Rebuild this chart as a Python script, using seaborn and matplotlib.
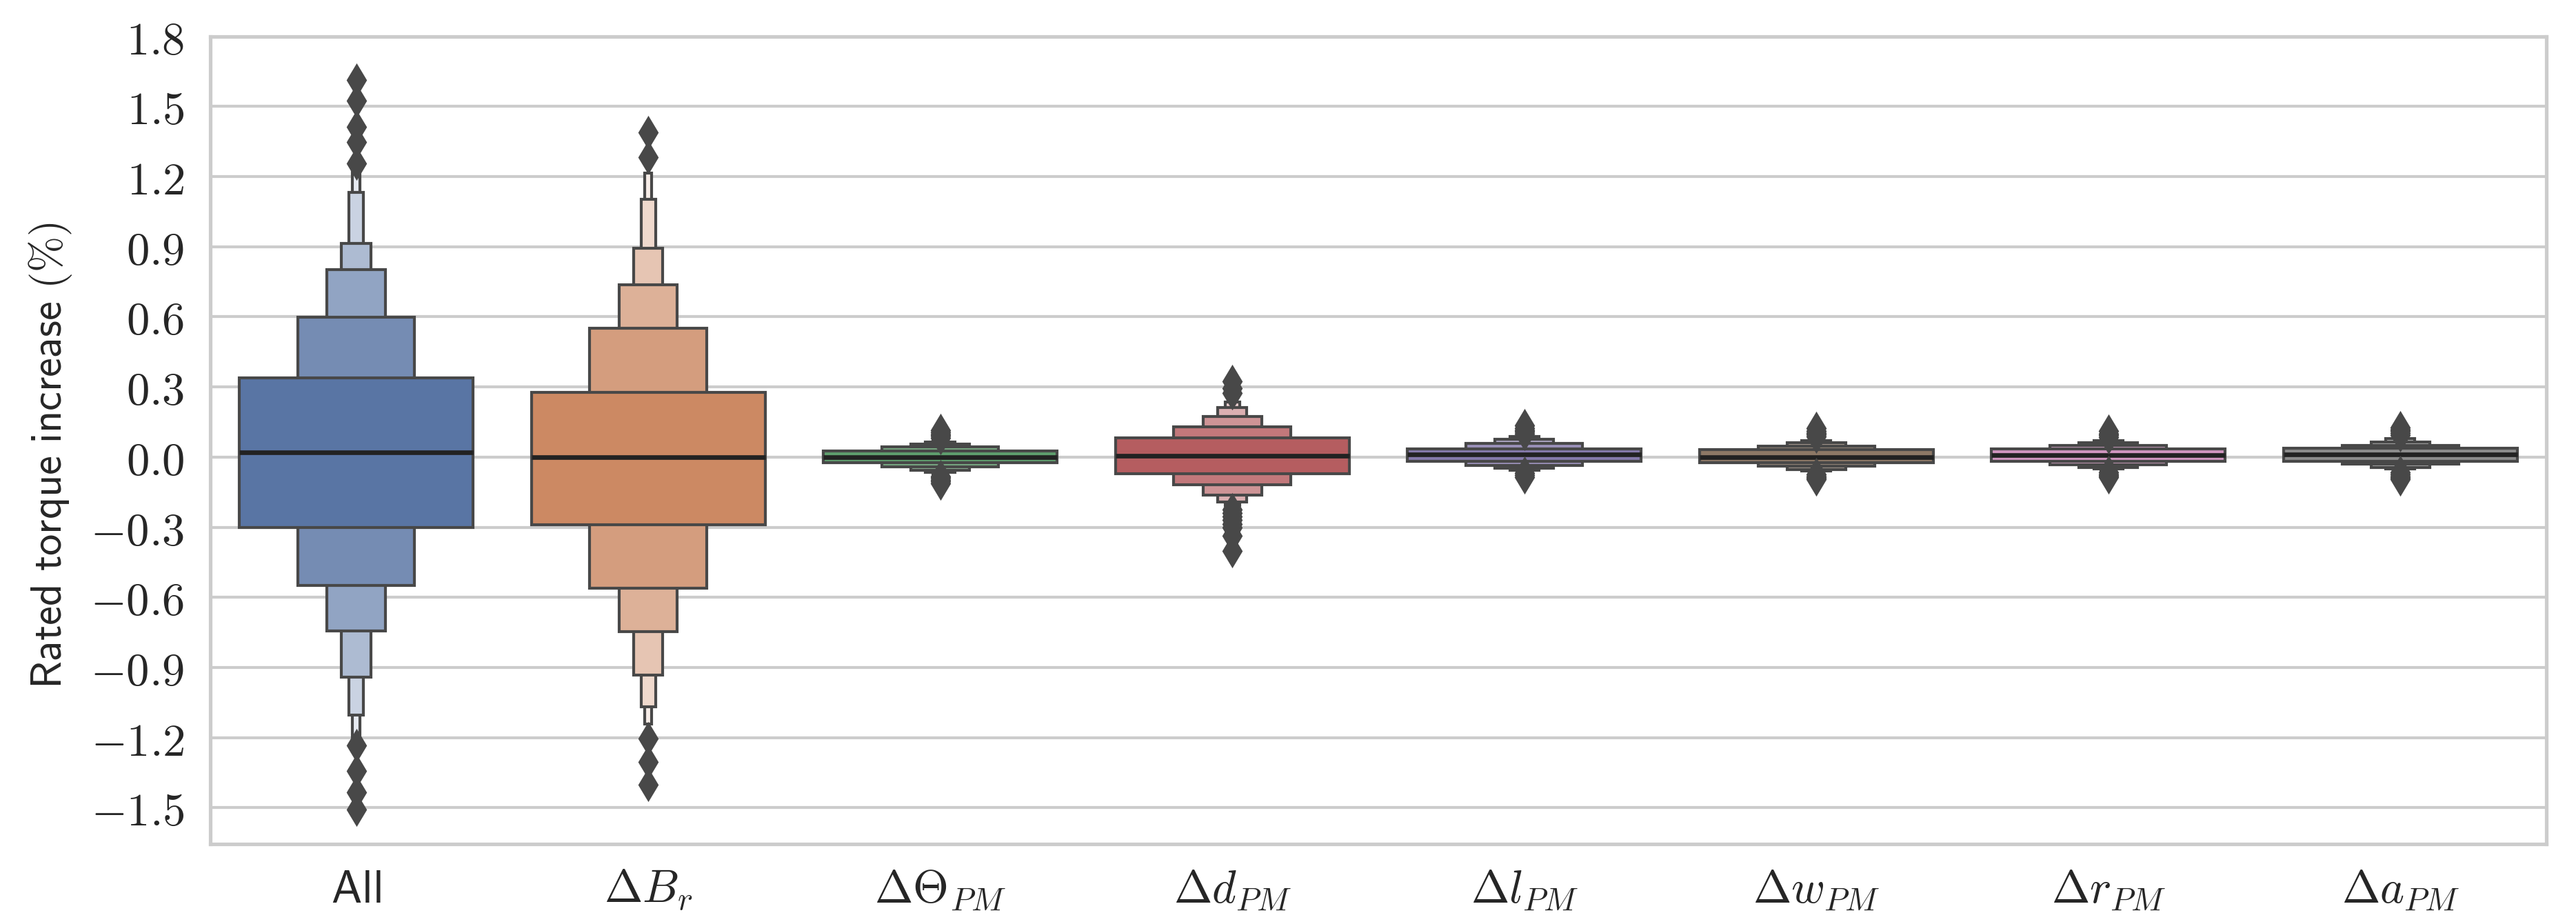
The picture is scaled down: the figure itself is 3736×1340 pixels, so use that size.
import matplotlib
matplotlib.use("Agg")
import numpy as np
import pandas as pd
import matplotlib.pyplot as plt
import seaborn as sns

# Letter-value plot of the rated torque increase per varied parameter.
# Values: one list per category,
# letter values go from the quartiles outward (25/75, 12.5/87.5, ...).
categories = ["All", r"$\Delta B_r$", r"$\Delta \Theta_{PM}$", r"$\Delta d_{PM}$",
              r"$\Delta l_{PM}$", r"$\Delta w_{PM}$", r"$\Delta r_{PM}$", r"$\Delta a_{PM}$"]

medians = [0.02, 0.0, 0.0, 0.006, 0.01, 0.0, 0.009, 0.01]

upper_values = [
    [0.338, 0.599, 0.801, 0.914, 1.132, 1.230],
    [0.277, 0.551, 0.737, 0.893, 1.102, 1.214],
    [0.026, 0.043, 0.055, 0.066, 0.072, 0.077],
    [0.083, 0.130, 0.174, 0.211, 0.235, 0.265],
    [0.036, 0.059, 0.075, 0.087, 0.093, 0.098],
    [0.031, 0.048, 0.063, 0.071, 0.078, 0.083],
    [0.034, 0.051, 0.063, 0.069, 0.075, 0.080],
    [0.037, 0.051, 0.065, 0.079, 0.085, 0.090],
]

lower_values = [
    [-0.301, -0.548, -0.744, -0.940, -1.105, -1.209],
    [-0.288, -0.562, -0.746, -0.931, -1.068, -1.142],
    [-0.025, -0.041, -0.055, -0.065, -0.071, -0.076],
    [-0.072, -0.118, -0.162, -0.191, -0.206, -0.215],
    [-0.018, -0.036, -0.047, -0.055, -0.060, -0.064],
    [-0.025, -0.039, -0.054, -0.060, -0.066, -0.070],
    [-0.018, -0.033, -0.046, -0.050, -0.055, -0.060],
    [-0.018, -0.030, -0.044, -0.050, -0.056, -0.060],
]

fliers = [
    [1.257, 1.349, 1.412, 1.526, 1.614, -1.233, -1.343, -1.435, -1.509],
    [1.282, 1.389, -1.203, -1.305, -1.400],
    [0.082, 0.090, 0.098, 0.106, 0.116, -0.082, -0.090, -0.098, -0.105, -0.113],
    [0.275, 0.295, 0.325, -0.225, -0.240, -0.255, -0.270, -0.285, -0.300, -0.338, -0.402],
    [0.100, 0.108, 0.116, 0.124, 0.136, -0.068, -0.076, -0.086],
    [0.088, 0.096, 0.104, 0.112, 0.123, -0.074, -0.082, -0.090, -0.096],
    [0.085, 0.093, 0.101, 0.113, -0.066, -0.074, -0.080, -0.086],
    [0.095, 0.103, 0.111, 0.118, 0.126, -0.066, -0.074, -0.082, -0.090, -0.096],
]

y_ticks = [-1.5, -1.2, -0.9, -0.6, -0.3, 0.0, 0.3, 0.6, 0.9, 1.2, 1.5, 1.8]

# style
sns.set_theme(style="whitegrid")
plt.rcParams["mathtext.fontset"] = "cm"
plt.rcParams["axes.edgecolor"] = ".8"
plt.rcParams["axes.linewidth"] = 1.25
plt.rcParams["grid.color"] = ".8"
plt.rcParams["grid.linewidth"] = 1.0

line_gray = "#484848"
palette = sns.color_palette("deep", len(categories))

fig, ax = plt.subplots(figsize=(3736 / 300, 1340 / 300), dpi=300)
fig.subplots_adjust(left=0.0816, right=0.9885, top=0.9607, bottom=0.0866)

# boxes: widest (quartile) box on top, each further level half as wide and lighter
for i, name in enumerate(categories):
    lo = lower_values[i]
    hi = upper_values[i]
    main = sns.desaturate(palette[i], 0.75)
    faded = tuple(c + 0.85 * (1 - c) for c in main)
    shades = sns.blend_palette([main, faded], len(lo))
    for lvl in range(len(lo) - 1, -1, -1):
        ax.bar(i, hi[lvl] - lo[lvl], bottom=lo[lvl], width=0.8 * 0.5 ** lvl,
               color=shades[lvl], edgecolor=line_gray, linewidth=1.0, zorder=2)
    ax.hlines(medians[i], i - 0.4, i + 0.4, color="#222222", linewidth=1.6, zorder=3)

# outliers
flier_df = pd.DataFrame({
    "pos": [i for i, f in enumerate(fliers) for _ in f],
    "value": [v for f in fliers for v in f],
})
sns.scatterplot(data=flier_df, x="pos", y="value", marker="d", s=70,
                color=line_gray, linewidth=0, zorder=4, ax=ax, legend=False)

ax.set_xlim(-0.5, len(categories) - 0.5)
ax.set_ylim(-1.655, 1.8)
ax.set_xticks(range(len(categories)))
ax.set_xticklabels([r"$\mathsf{All}$"] + categories[1:])
ax.set_yticks(y_ticks, labels=[f"${v:.1f}$" for v in y_ticks])
ax.grid(axis="x", visible=False)
ax.grid(axis="y", visible=True)
ax.set_axisbelow(True)
ax.tick_params(axis="both", length=0, labelsize=16, colors=".15")
ax.tick_params(axis="y", pad=9)
ax.tick_params(axis="x", pad=8)
ax.set_xlabel("")
ax.set_ylabel(r"$\mathsf{Rated\ torque\ increase\ (\%)}$", fontsize=15, color=".15")
ax.yaxis.set_label_coords(-0.0584, 0.481)

fig.savefig("out.png", dpi=300)
